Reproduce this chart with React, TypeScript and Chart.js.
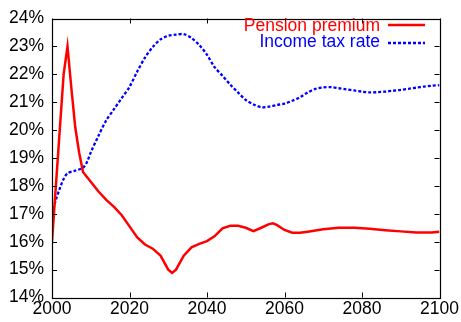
import React, { useEffect, useRef } from "react";
import { Chart, registerables } from "chart.js";

Chart.register(...registerables);

const pensionYears = [2000, 2001, 2002, 2003, 2004, 2005, 2006, 2007, 2008, 2010, 2012, 2014, 2016, 2018, 2020, 2022, 2024, 2026, 2028, 2030, 2031, 2032, 2034, 2036, 2038, 2040, 2042, 2044, 2046, 2048, 2050, 2052, 2054, 2056, 2057, 2058, 2060, 2062, 2064, 2066, 2070, 2074, 2078, 2082, 2086, 2090, 2094, 2098, 2100];
const pensionValues = [16.0, 18.0, 20.0, 22.0, 23.0, 21.5, 20.1, 19.2, 18.5, 18.15, 17.8, 17.5, 17.25, 16.95, 16.55, 16.15, 15.9, 15.75, 15.5, 15.0, 14.88, 15.0, 15.5, 15.8, 15.92, 16.02, 16.2, 16.48, 16.57, 16.57, 16.5, 16.38, 16.5, 16.63, 16.66, 16.6, 16.42, 16.32, 16.32, 16.36, 16.45, 16.5, 16.5, 16.46, 16.41, 16.37, 16.33, 16.33, 16.36];

const taxYears = [2000, 2001, 2002, 2003, 2004, 2006, 2008, 2009, 2010, 2012, 2014, 2016, 2018, 2020, 2022, 2024, 2026, 2028, 2030, 2032, 2034, 2036, 2038, 2040, 2042, 2044, 2046, 2048, 2050, 2052, 2054, 2056, 2058, 2060, 2062, 2064, 2066, 2068, 2070, 2072, 2074, 2076, 2078, 2080, 2082, 2084, 2086, 2088, 2090, 2092, 2094, 2096, 2098, 2100];
const taxValues = [17.0, 17.5, 17.9, 18.25, 18.45, 18.55, 18.65, 18.85, 19.2, 19.8, 20.35, 20.75, 21.15, 21.55, 22.1, 22.6, 22.98, 23.25, 23.38, 23.42, 23.44, 23.3, 23.05, 22.7, 22.25, 21.95, 21.63, 21.35, 21.08, 20.92, 20.82, 20.84, 20.9, 20.95, 21.05, 21.18, 21.35, 21.48, 21.53, 21.54, 21.5, 21.46, 21.42, 21.38, 21.35, 21.36, 21.38, 21.41, 21.44, 21.48, 21.52, 21.56, 21.59, 21.61];

const seriesLabels = ["Pension premium", "Income tax rate"];
const yTicks = [14, 15, 16, 17, 18, 19, 20, 21, 22, 23, 24];
const xTicks = [2000, 2020, 2040, 2060, 2080, 2100];

const FONT = "'Liberation Sans', Arial, sans-serif";

const framePlugin = {
  id: "frameTicks",
  afterDatasetsDraw(chart: any) {
    const { ctx, chartArea: a, scales } = chart;
    const x = scales.x;
    const y = scales.y;
    ctx.save();
    ctx.strokeStyle = "#000";
    ctx.lineWidth = 1;
    const L = 5;
    ctx.beginPath();
    for (const v of yTicks) {
      const p = Math.round(y.getPixelForValue(v)) + 0.5;
      ctx.moveTo(a.left, p);
      ctx.lineTo(a.left + L, p);
      ctx.moveTo(a.right, p);
      ctx.lineTo(a.right - L, p);
    }
    for (const v of xTicks) {
      const p = Math.round(x.getPixelForValue(v)) + 0.5;
      ctx.moveTo(p, a.bottom);
      ctx.lineTo(p, a.bottom - L);
      ctx.moveTo(p, a.top);
      ctx.lineTo(p, a.top + L);
    }
    ctx.stroke();
    ctx.lineWidth = 1.2;
    ctx.strokeRect(Math.round(a.left) + 0.5, Math.round(a.top) + 0.5, Math.round(a.right - a.left), Math.round(a.bottom - a.top));

    // legend
    ctx.font = `17.5px ${FONT}`;
    ctx.textAlign = "right";
    ctx.textBaseline = "alphabetic";
    const textRows = [30.7, 46.7];
    const lineRows = [25, 43];
    chart.data.datasets.forEach((ds: any, i: number) => {
      ctx.fillStyle = ds.borderColor;
      ctx.fillText(ds.label, 380, textRows[i]);
      ctx.strokeStyle = ds.borderColor;
      ctx.lineWidth = ds.borderWidth;
      ctx.setLineDash(ds.borderDash || []);
      ctx.beginPath();
      ctx.moveTo(388, lineRows[i]);
      ctx.lineTo(425, lineRows[i]);
      ctx.stroke();
      ctx.setLineDash([]);
    });
    ctx.restore();
  },
};

export default function App() {
  const ref = useRef<HTMLCanvasElement>(null);
  useEffect(() => {
    const chart = new Chart(ref.current!, {
      type: "line",
      data: {
        datasets: [
          {
            label: seriesLabels[0],
            data: pensionYears.map((yr, i) => ({ x: yr, y: pensionValues[i] })),
            borderColor: "#ff0000",
            borderWidth: 2.5,
            pointRadius: 0,
            tension: 0,
            fill: false,
          },
          {
            label: seriesLabels[1],
            data: taxYears.map((yr, i) => ({ x: yr, y: taxValues[i] })),
            borderColor: "#0000ff",
            borderWidth: 2.3,
            borderDash: [3, 2],
            pointRadius: 0,
            tension: 0.3,
            fill: false,
          },
        ],
      },
      options: {
        animation: false,
        responsive: false,
        maintainAspectRatio: false,
        layout: { padding: { top: 14, right: 21.5, left: 0, bottom: 0 } },
        plugins: { legend: { display: false }, tooltip: { enabled: false } },
        scales: {
          x: {
            type: "linear",
            min: 2000,
            max: 2100,
            grid: { display: false, drawTicks: false },
            border: { display: false },
            afterFit(scale: any) {
              scale.height = 24.5;
            },
            afterBuildTicks(scale: any) {
              scale.ticks = xTicks.map((v) => ({ value: v }));
            },
            ticks: {
              color: "#000",
              padding: 1,
              maxRotation: 0,
              autoSkip: false,
              font: { family: FONT, size: 17.5 },
              callback: (v: any) => String(v),
            },
          },
          y: {
            min: 14,
            max: 24,
            grid: { display: false, drawTicks: false },
            border: { display: false },
            afterFit(scale: any) {
              scale.width = 52;
            },
            afterBuildTicks(scale: any) {
              scale.ticks = yTicks.map((v) => ({ value: v }));
            },
            ticks: {
              color: "#000",
              padding: 8,
              autoSkip: false,
              font: { family: FONT, size: 17.5 },
              callback: (v: any) => v + "%",
            },
          },
        },
      },
      plugins: [framePlugin],
    });
    return () => chart.destroy();
  }, []);
  return (
    <div style={{ position: "absolute", left: 0, top: 0, width: 461, height: 322, background: "#fff" }}>
      <canvas ref={ref} width={461} height={322} />
    </div>
  );
}
